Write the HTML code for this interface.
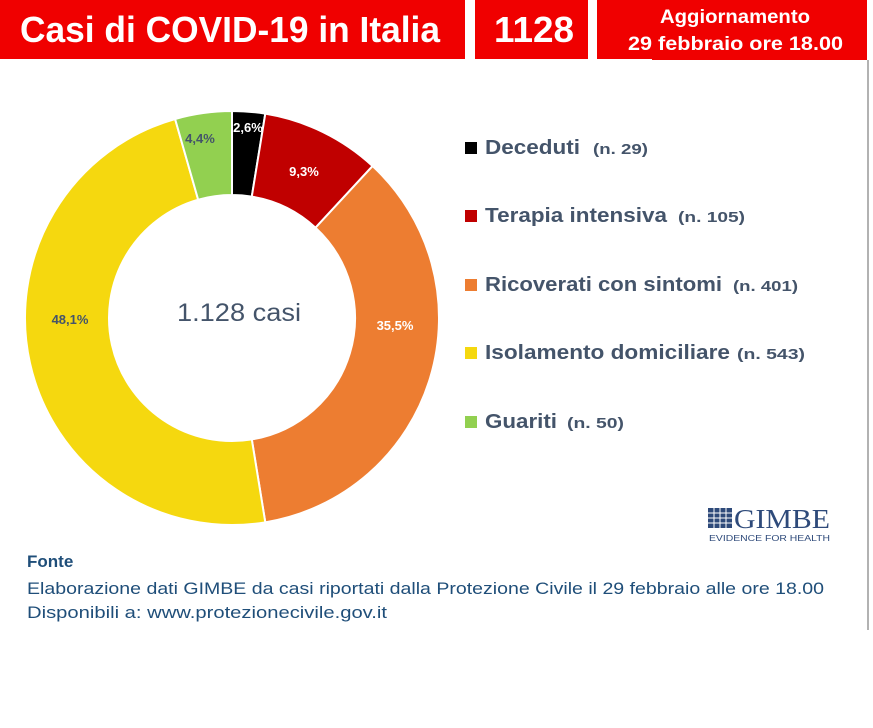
<!DOCTYPE html>
<html><head><meta charset="utf-8"><style>
html,body{margin:0;padding:0;background:#fff;}
svg{display:block;font-family:"Liberation Sans",sans-serif;}
</style></head><body>
<svg id="s" width="873" height="728" viewBox="0 0 873 728">
<rect width="873" height="728" fill="#fff"/>
<rect x="0" y="0" width="465" height="59" fill="#f00000"/>
<rect x="475" y="0" width="113" height="59" fill="#f00000"/>
<rect x="597" y="0" width="270" height="59" fill="#f00000"/>
<rect x="652" y="55" width="215" height="5" fill="#f00000"/>
<line x1="868" y1="60" x2="868" y2="630" stroke="#999" stroke-width="1.5"/>
<text x="20" y="42" font-size="36" font-weight="bold" fill="#fff" textLength="420" lengthAdjust="spacingAndGlyphs">Casi di COVID-19 in Italia</text>
<text x="494" y="42" font-size="36" font-weight="bold" fill="#fff" textLength="80" lengthAdjust="spacingAndGlyphs">1128</text>
<text x="660" y="23" font-size="19" font-weight="bold" fill="#fff" textLength="150" lengthAdjust="spacingAndGlyphs">Aggiornamento</text>
<text x="628" y="50" font-size="19" font-weight="bold" fill="#fff" textLength="215" lengthAdjust="spacingAndGlyphs">29 febbraio ore 18.00</text>
<g id="donut"></g>
<text x="177" y="321" font-size="25" fill="#44546a" textLength="124" lengthAdjust="spacingAndGlyphs">1.128 casi</text>
<g font-size="13" font-weight="bold" text-anchor="middle">
<text x="248" y="132" fill="#fff">2,6%</text>
<text x="304" y="176" fill="#fff">9,3%</text>
<text x="395" y="330" fill="#fff">35,5%</text>
<text x="70" y="324" fill="#44546a">48,1%</text>
<text x="200" y="143" fill="#44546a">4,4%</text>
</g>
<g font-weight="bold" fill="#44546a" lengthAdjust="spacingAndGlyphs">
<rect x="465" y="142" width="12" height="12" fill="#000"/>
<text x="485" y="154" font-size="20" textLength="95" lengthAdjust="spacingAndGlyphs">Deceduti</text>
<text x="593" y="154" font-size="15" textLength="55" lengthAdjust="spacingAndGlyphs">(n. 29)</text>
<rect x="465" y="210" width="12" height="12" fill="#c00000"/>
<text x="485" y="222" font-size="20" textLength="182" lengthAdjust="spacingAndGlyphs">Terapia intensiva</text>
<text x="678" y="222" font-size="15" textLength="67" lengthAdjust="spacingAndGlyphs">(n. 105)</text>
<rect x="465" y="279" width="12" height="12" fill="#ed7d31"/>
<text x="485" y="291" font-size="20" textLength="237" lengthAdjust="spacingAndGlyphs">Ricoverati con sintomi</text>
<text x="733" y="291" font-size="15" textLength="65" lengthAdjust="spacingAndGlyphs">(n. 401)</text>
<rect x="465" y="347" width="12" height="12" fill="#f5d80f"/>
<text x="485" y="359" font-size="20" textLength="245" lengthAdjust="spacingAndGlyphs">Isolamento domiciliare</text>
<text x="737" y="359" font-size="15" textLength="68" lengthAdjust="spacingAndGlyphs">(n. 543)</text>
<rect x="465" y="416" width="12" height="12" fill="#92d050"/>
<text x="485" y="428" font-size="20" textLength="72" lengthAdjust="spacingAndGlyphs">Guariti</text>
<text x="567" y="428" font-size="15" textLength="57" lengthAdjust="spacingAndGlyphs">(n. 50)</text>
</g>
<g fill="#1f3e6e">
<rect x="708" y="508" width="24" height="20" fill="#2e4a7a"/>
<g stroke="#fff" stroke-width="1">
<line x1="708" y1="513" x2="732" y2="513"/><line x1="708" y1="518" x2="732" y2="518"/><line x1="708" y1="523" x2="732" y2="523"/>
<line x1="714" y1="508" x2="714" y2="528"/><line x1="720" y1="508" x2="720" y2="528"/><line x1="726" y1="508" x2="726" y2="528"/>
</g>
<text x="734" y="528" font-family="Liberation Serif,serif" font-size="27" fill="#2e4a7a" textLength="96" lengthAdjust="spacingAndGlyphs">GIMBE</text>
<text x="709" y="541" font-size="8" fill="#2e4a7a" textLength="121" lengthAdjust="spacingAndGlyphs">EVIDENCE FOR HEALTH</text>
</g>
<text x="27" y="567" font-size="17" font-weight="bold" fill="#1f4e79">Fonte</text>
<text x="27" y="594" font-size="17" fill="#1f4e79" textLength="797" lengthAdjust="spacingAndGlyphs">Elaborazione dati GIMBE da casi riportati dalla Protezione Civile il 29 febbraio alle ore 18.00</text>
<text x="27" y="618" font-size="17" fill="#1f4e79" textLength="360" lengthAdjust="spacingAndGlyphs">Disponibili a: www.protezionecivile.gov.it</text>
</svg>
<script>
(function(){
var cx=232,cy=318,R=207,r=123;
var d=[[29,"#000"],[105,"#c00000"],[401,"#ed7d31"],[543,"#f5d80f"],[50,"#92d050"]];
var tot=1128,a=0,g=document.getElementById("donut"),h="";
function p(rad,ang){return [cx+rad*Math.sin(ang),cy-rad*Math.cos(ang)];}
d.forEach(function(s){
 var a0=a,a1=a+s[0]/tot*2*Math.PI;a=a1;
 var L=(a1-a0)>Math.PI?1:0;
 var p1=p(R,a0),p2=p(R,a1),p3=p(r,a1),p4=p(r,a0);
 h+='<path d="M'+p1+' A'+R+' '+R+' 0 '+L+' 1 '+p2+' L'+p3+' A'+r+' '+r+' 0 '+L+' 0 '+p4+'Z" fill="'+s[1]+'" stroke="#fff" stroke-width="2"/>';
});
g.innerHTML=h;
})();
</script>
</body></html>
